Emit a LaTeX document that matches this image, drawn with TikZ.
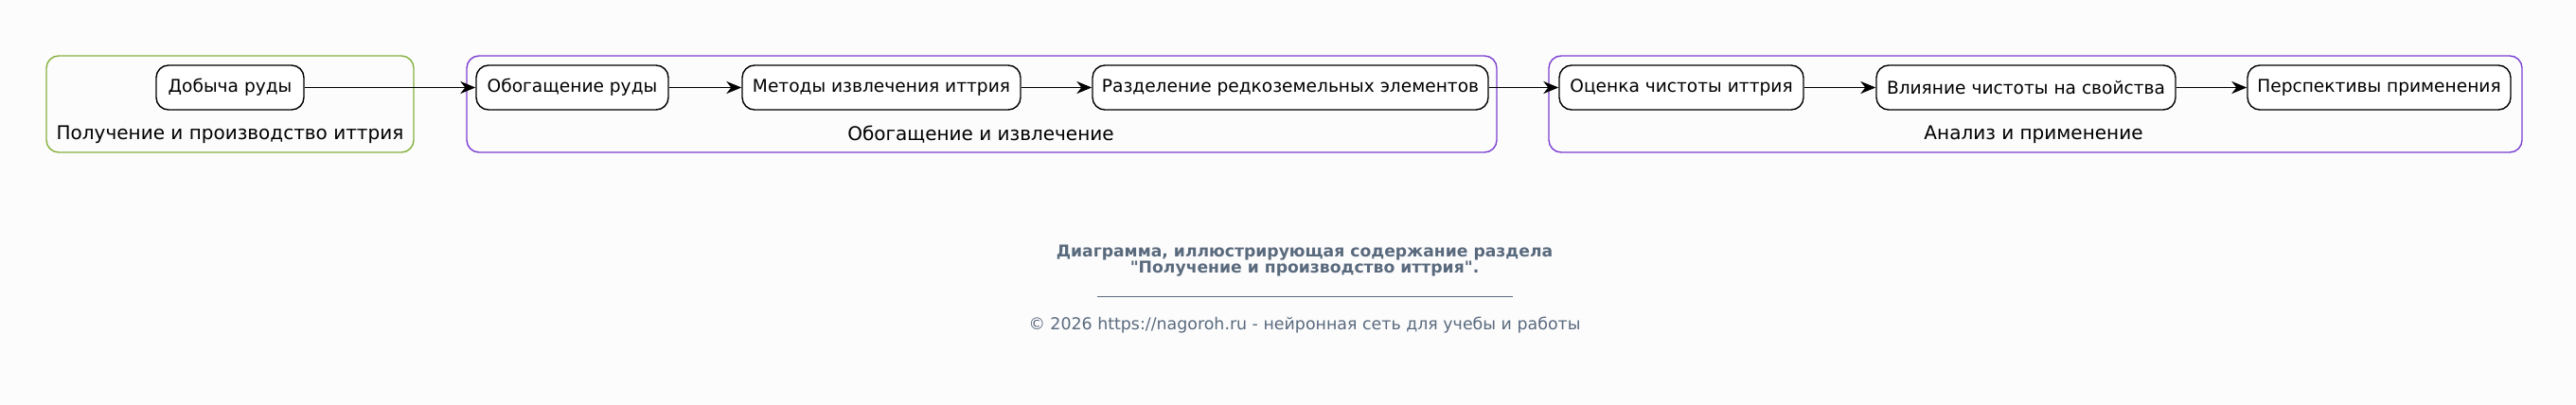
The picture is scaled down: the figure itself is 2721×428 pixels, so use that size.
\documentclass[tikz,border=0pt]{standalone}
\usepackage{fontspec}
\setmainfont{DejaVu Sans}
\newfontfamily\capfont{DejaVu Sans}
\usetikzlibrary{arrows.meta}
\definecolor{bg}{RGB}{252,252,253}
\definecolor{grp1}{RGB}{134,178,64}
\definecolor{grp2}{RGB}{124,64,208}
\definecolor{capc}{RGB}{90,106,125}
\tikzset{
  stepbox/.style={draw=black,line width=1.4pt,fill=white,rounded corners=13pt,minimum height=47pt,inner sep=0pt,font=\fontsize{18.6}{22}\selectfont},
  grpbox/.style={line width=1.4pt,rounded corners=13pt},
  grplabel/.style={font=\fontsize{20}{24}\selectfont,inner sep=0pt},
  conn/.style={draw=black,line width=1.7pt,-{Stealth[length=16pt,width=13pt,inset=5pt]}},
  captext/.style={text=capc,inner sep=0pt,align=center}
}
\begin{document}
\begin{tikzpicture}[x=1pt,y=-1pt]
\fill[bg] (0,0) rectangle (2721,428);
\useasboundingbox (0,0) rectangle (2721,428);
% groups
\draw[grpbox,draw=grp1] (49,59) rectangle (437,161);
\draw[grpbox,draw=grp2] (493,59) rectangle (1581,161);
\draw[grpbox,draw=grp2] (1636,59) rectangle (2664,161);
\node[grplabel] (l1) at (243,142) {Получение и производство иттрия};
\node[grplabel] (l2) at (1036,142) {Обогащение и извлечение};
\node[grplabel] (l3) at (2148,142) {Анализ и применение};
% steps
\node[stepbox,minimum width=156pt] (a) at (243,92.5) {Добыча руды};
\node[stepbox,minimum width=203pt] (b) at (604.5,92.5) {Обогащение руды};
\node[stepbox,minimum width=294pt] (c) at (931,92.5) {Методы извлечения иттрия};
\node[stepbox,minimum width=418pt] (d) at (1363,92.5) {Разделение редкоземельных элементов};
\node[stepbox,minimum width=258pt] (e) at (1776,92.5) {Оценка чистоты иттрия};
\node[stepbox,minimum width=316pt] (f) at (2140,92.5) {Влияние чистоты на свойства};
\node[stepbox,minimum width=278pt] (g) at (2513,92.5) {Перспективы применения};
% connectors
\draw[conn] (a) -- (b);
\draw[conn] (b) -- (c);
\draw[conn] (c) -- (d);
\draw[conn] (d) -- (e);
\draw[conn] (e) -- (f);
\draw[conn] (f) -- (g);
% caption
\node[captext,font=\capfont\bfseries\fontsize{17.2}{17}\selectfont] (cap) at (1378,275.5) {Диаграмма, иллюстрирующая содержание раздела\\"Получение и производство иттрия".};
\coordinate (r1) at (1159,313);
\coordinate (r2) at (1598,313);
\draw[capc,line width=1pt] (r1) -- (r2);
\node[captext,font=\capfont\fontsize{17.4}{19}\selectfont] (copy) at (1378,344) {© 2026 https://nagoroh.ru - нейронная сеть для учебы и работы};
\end{tikzpicture}
\end{document}
